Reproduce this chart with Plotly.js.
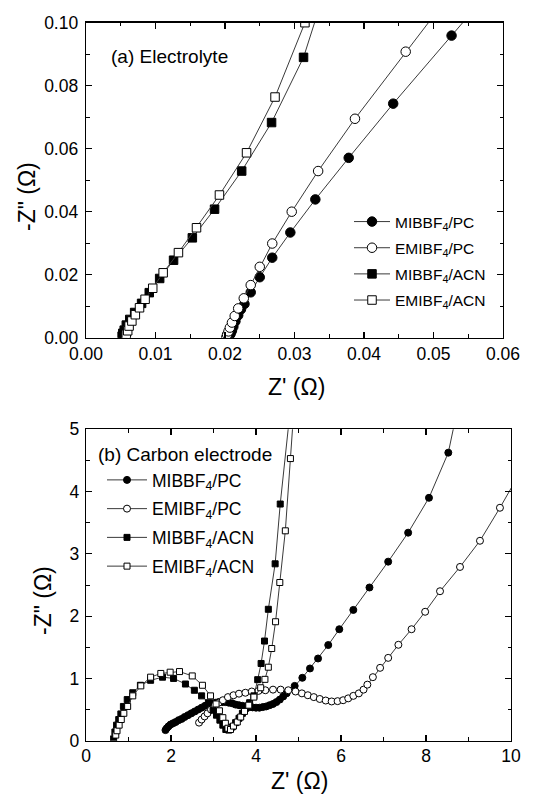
<!DOCTYPE html>
<html>
<head>
<meta charset="utf-8">
<script src="https://cdn.plot.ly/plotly-3.0.1.min.js"></script>
<style>html,body{margin:0;padding:0;background:#fff;}#chart{width:536px;height:795px;}</style>
</head>
<body>
<div id="chart"></div>
<script>
// ---------- (a) Electrolyte ----------
const seriesNames = ['MIBBF<sub>4</sub>/PC', 'EMIBF<sub>4</sub>/PC', 'MIBBF<sub>4</sub>/ACN', 'EMIBF<sub>4</sub>/ACN'];

const aMibPcX  = [0.0206,0.0208,0.0210,0.0212,0.0215,0.0219,0.0223,0.0228,0.0237,0.0250,0.0268,0.0294,0.0330,0.0378,0.0442,0.0526,0.0620];
const aMibPcY  = [0.0003,0.0012,0.0022,0.0035,0.0052,0.0071,0.0090,0.0107,0.0144,0.0192,0.0254,0.0334,0.0439,0.0571,0.0743,0.0959,0.1200];
const aEmiPcX  = [0.0202,0.0203,0.0205,0.0207,0.0210,0.0214,0.0219,0.0227,0.0237,0.0250,0.0268,0.0296,0.0334,0.0387,0.0460,0.0555];
const aEmiPcY  = [0.0002,0.0010,0.0020,0.0032,0.0048,0.0069,0.0093,0.0125,0.0167,0.0225,0.0299,0.0400,0.0529,0.0695,0.0908,0.1180];
const aMibAcnX = [0.0052,0.0053,0.0055,0.0058,0.0063,0.0070,0.0080,0.0091,0.0106,0.0126,0.0153,0.0185,0.0224,0.0267,0.0313,0.0365];
const aMibAcnY = [0.0005,0.0014,0.0024,0.0040,0.0058,0.0080,0.0109,0.0143,0.0188,0.0246,0.0317,0.0408,0.0529,0.0683,0.0890,0.1250];
const aEmiAcnX = [0.0057,0.0058,0.0060,0.0062,0.0066,0.0071,0.0077,0.0085,0.0096,0.0111,0.0133,0.0159,0.0192,0.0231,0.0272,0.0315,0.0350];
const aEmiAcnY = [0.0003,0.0011,0.0022,0.0037,0.0053,0.0073,0.0095,0.0122,0.0157,0.0206,0.0270,0.0349,0.0453,0.0587,0.0764,0.1000,0.1250];

// ---------- (b) Carbon electrode ----------
const bMibPcX  = [1.87,1.90,1.94,1.99,2.05,2.11,2.18,2.25,2.32,2.40,2.48,2.56,2.64,2.72,2.80,2.88,2.96,3.04,3.12,3.20,3.28,3.36,3.44,3.52,3.60,3.68,3.76,3.84,3.92,4.00,4.08,4.16,4.24,4.32,4.40,4.48,4.56,4.64,4.72,4.91,5.09,5.27,5.46,5.70,5.96,6.29,6.67,7.11,7.58,8.07,8.525,8.95];
const bMibPcY  = [0.17,0.20,0.23,0.26,0.28,0.30,0.33,0.35,0.38,0.41,0.44,0.47,0.50,0.53,0.56,0.58,0.60,0.61,0.62,0.62,0.62,0.61,0.60,0.58,0.57,0.56,0.55,0.54,0.535,0.53,0.53,0.54,0.55,0.57,0.59,0.62,0.66,0.71,0.76,0.88,1.01,1.16,1.32,1.536,1.79,2.10,2.46,2.875,3.34,3.90,4.625,6.0];
const bEmiPcX  = [2.66,2.72,2.79,2.86,2.94,3.02,3.12,3.22,3.34,3.47,3.60,3.75,3.90,4.06,4.22,4.40,4.58,4.76,4.93,5.08,5.22,5.36,5.50,5.64,5.78,5.92,6.05,6.17,6.29,6.42,6.53,6.62,6.75,6.92,7.11,7.35,7.66,7.98,8.33,8.80,9.27,9.74,10.25];
const bEmiPcY  = [0.29,0.34,0.39,0.44,0.50,0.56,0.61,0.65,0.70,0.73,0.755,0.77,0.79,0.80,0.81,0.82,0.82,0.81,0.79,0.76,0.73,0.70,0.67,0.645,0.63,0.635,0.65,0.68,0.72,0.76,0.82,0.90,1.02,1.17,1.33,1.54,1.79,2.07,2.40,2.79,3.21,3.74,4.35];
const bMibAcnX = [0.65,0.68,0.72,0.77,0.82,0.88,0.97,1.10,1.28,1.52,1.80,2.06,2.34,2.55,2.72,2.88,2.99,3.07,3.15,3.22,3.29,3.36,3.44,3.52,3.60,3.68,3.76,3.85,3.95,4.04,4.12,4.20,4.29,4.45,4.57,4.85];
const bMibAcnY = [0.03,0.14,0.25,0.34,0.43,0.55,0.66,0.77,0.89,0.97,1.02,1.00,0.91,0.81,0.72,0.61,0.49,0.41,0.33,0.25,0.18,0.17,0.22,0.29,0.36,0.44,0.52,0.61,0.72,0.98,1.24,1.60,2.11,2.84,3.80,5.60];
const bEmiAcnX = [0.70,0.73,0.78,0.83,0.89,0.98,1.10,1.29,1.52,1.76,1.98,2.20,2.50,2.74,2.93,3.06,3.14,3.22,3.28,3.34,3.40,3.47,3.56,3.64,3.73,3.83,3.95,4.11,4.21,4.29,4.37,4.46,4.56,4.69,4.81,4.92];
const bEmiAcnY = [0.09,0.16,0.25,0.34,0.44,0.55,0.72,0.88,1.02,1.08,1.10,1.11,1.04,0.89,0.72,0.59,0.48,0.37,0.28,0.20,0.18,0.235,0.30,0.38,0.47,0.57,0.70,0.85,0.985,1.18,1.48,1.91,2.54,3.37,4.53,5.60];

const FONT = 'Liberation Sans, Arial, sans-serif';
const LINE = '#3a3a3a';
const symbols = ['circle', 'circle', 'square', 'square'];
const fills = ['black', 'white', 'black', 'white'];

function mk(i, x, y, xa, ya, leg, size) {
  return {
    type: 'scatter', mode: 'lines+markers', x: x, y: y, xaxis: xa, yaxis: ya,
    name: seriesNames[i], legend: leg, legendgroup: leg + '_' + i, cliponaxis: true,
    line: {color: LINE, width: 1},
    marker: {symbol: symbols[i], size: symbols[i] === 'square' ? size - 1 : size, color: fills[i], line: {color: 'black', width: 1}}
  };
}

const traces = [
  mk(0, aMibPcX, aMibPcY, 'x', 'y', 'legend', 9.5),
  mk(1, aEmiPcX, aEmiPcY, 'x', 'y', 'legend', 9.5),
  mk(2, aMibAcnX, aMibAcnY, 'x', 'y', 'legend', 9.5),
  mk(3, aEmiAcnX, aEmiAcnY, 'x', 'y', 'legend', 9.5),
  mk(0, bMibPcX, bMibPcY, 'x2', 'y2', 'legend2', 7),
  mk(1, bEmiPcX, bEmiPcY, 'x2', 'y2', 'legend2', 7),
  mk(2, bMibAcnX, bMibAcnY, 'x2', 'y2', 'legend2', 7),
  mk(3, bEmiAcnX, bEmiAcnY, 'x2', 'y2', 'legend2', 7)
];

const MINOR = {ticks: 'inside', ticklen: 3.5, tickwidth: 1, tickcolor: 'black', showgrid: false};
function ax(extra) {
  return Object.assign({
    showgrid: false, zeroline: false, showline: true, linecolor: 'black', linewidth: 1.3,
    mirror: 'ticks', ticks: 'inside', ticklen: 6, tickwidth: 1.2, tickcolor: 'black',
    tickfont: {family: FONT, size: 17.5, color: 'black'}
  }, extra);
}

const W = 536, H = 795;
const TF = {family: FONT, size: 23, color: 'black'};
const layout = {
  width: W, height: H, margin: {l: 0, r: 0, t: 0, b: 0},
  paper_bgcolor: 'white', plot_bgcolor: 'white',
  font: {family: FONT, color: 'black'},
  xaxis: ax({domain: [86/W, 503/W], range: [0, 0.06], dtick: 0.01, tick0: 0, tickformat: '.2f',
    minor: Object.assign({dtick: 0.005}, MINOR), anchor: 'y', ticklabelstandoff: 0}),
  yaxis: ax({domain: [1 - 337.7/H, 1 - 22.7/H], range: [0, 0.1], dtick: 0.02, tick0: 0, tickformat: '.2f',
    minor: Object.assign({dtick: 0.01}, MINOR), anchor: 'x', ticklabelstandoff: 3}),
  xaxis2: ax({domain: [86/W, 511/W], range: [0, 10], dtick: 2, tick0: 0,
    minor: Object.assign({dtick: 1}, MINOR), anchor: 'y2', ticklabelstandoff: -1}),
  yaxis2: ax({domain: [1 - 740.7/H, 1 - 429.3/H], range: [0, 5], dtick: 1, tick0: 0,
    minor: Object.assign({dtick: 0.5}, MINOR), anchor: 'x2', ticklabelstandoff: 2}),
  legend: {x: 349/W, y: 1 - 205/H, xanchor: 'left', yanchor: 'top', bgcolor: 'rgba(0,0,0,0)',
    font: {family: FONT, size: 15.5, color: 'black'}, tracegroupgap: 3, itemwidth: 36},
  legend2: {x: 102/W, y: 1 - 462/H, xanchor: 'left', yanchor: 'top', bgcolor: 'rgba(0,0,0,0)',
    font: {family: FONT, size: 17.5, color: 'black'}, tracegroupgap: 3, itemwidth: 40},
  showlegend: true,
  annotations: [
    {text: '(a) Electrolyte', xref: 'paper', yref: 'paper', x: 109/W, y: 1 - 57/H, xanchor: 'left', yanchor: 'middle',
     showarrow: false, font: {family: FONT, size: 19, color: 'black'}},
    {text: '(b) Carbon electrode', xref: 'paper', yref: 'paper', x: 96/W, y: 1 - 454/H, xanchor: 'left', yanchor: 'middle',
     showarrow: false, font: {family: FONT, size: 19, color: 'black'}},
    // axis titles
    {text: "Z' (Ω)", xref: 'paper', yref: 'paper', x: 296/W, y: 1 - 387/H, xanchor: 'center', yanchor: 'middle',
     showarrow: false, font: TF},
    {text: '-Z" (Ω)', xref: 'paper', yref: 'paper', x: 27/W, y: 1 - 197/H, xanchor: 'center', yanchor: 'middle',
     textangle: -90, showarrow: false, font: TF},
    {text: "Z' (Ω)", xref: 'paper', yref: 'paper', x: 299/W, y: 1 - 781/H, xanchor: 'center', yanchor: 'middle',
     showarrow: false, font: TF},
    {text: '-Z" (Ω)', xref: 'paper', yref: 'paper', x: 43/W, y: 1 - 601/H, xanchor: 'center', yanchor: 'middle',
     textangle: -90, showarrow: false, font: TF}
  ]
};

Plotly.newPlot('chart', traces, layout, {staticPlot: true, displayModeBar: false});
</script>
</body>
</html>
